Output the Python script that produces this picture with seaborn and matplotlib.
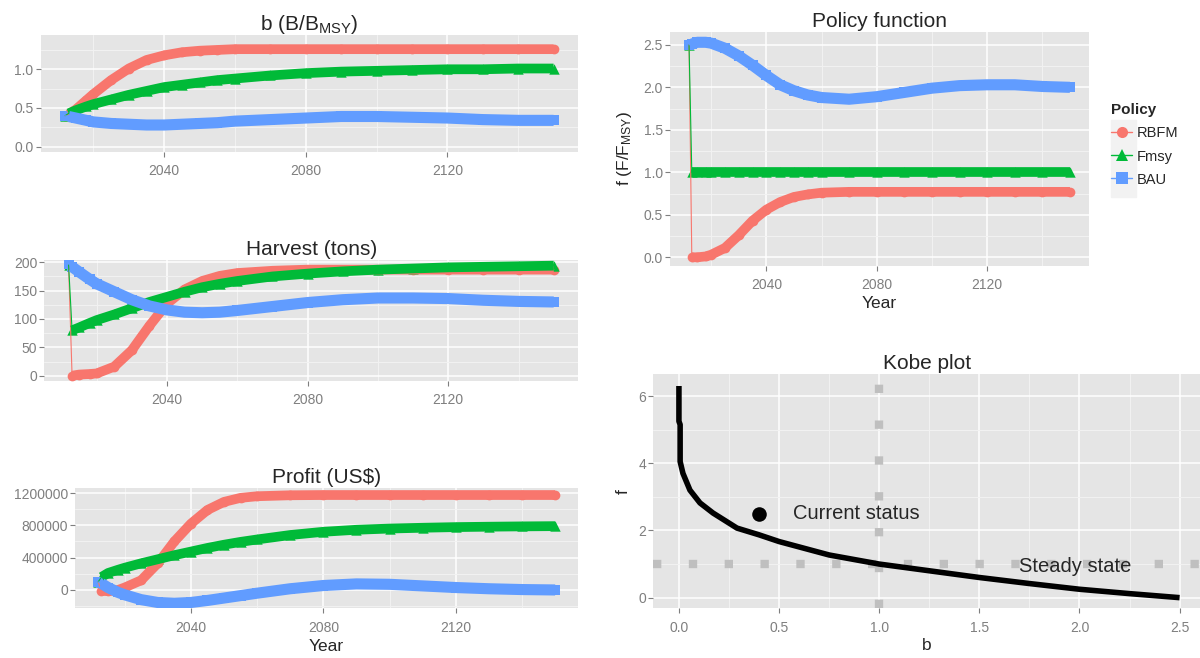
import matplotlib
matplotlib.use("Agg")
import matplotlib.pyplot as plt
from matplotlib.lines import Line2D
from matplotlib.patches import Rectangle
import pandas as pd
import seaborn as sns

# ---- data ----
years = [2012, 2013, 2015, 2018, 2020, 2025, 2030, 2035, 2040, 2045, 2050, 2055,
         2060, 2070, 2080, 2090, 2100, 2110, 2120, 2130, 2140, 2150]
policies = ["RBFM", "Fmsy", "BAU"]

b_rbfm = [0.40, 0.42, 0.48, 0.60, 0.68, 0.86, 1.01, 1.12, 1.18, 1.22, 1.24, 1.25,
          1.26, 1.26, 1.26, 1.26, 1.26, 1.26, 1.26, 1.26, 1.26, 1.26]
b_fmsy = [0.40, 0.43, 0.47, 0.52, 0.55, 0.61, 0.67, 0.72, 0.77, 0.80, 0.83, 0.86,
          0.88, 0.92, 0.95, 0.97, 0.98, 0.99, 1.00, 1.00, 1.01, 1.01]
b_bau = [0.40, 0.39, 0.37, 0.34, 0.32, 0.30, 0.29, 0.28, 0.28, 0.29, 0.30, 0.31,
         0.33, 0.35, 0.37, 0.39, 0.39, 0.38, 0.37, 0.35, 0.34, 0.34]

h_rbfm = [196, 0, 2, 3, 4, 16, 45, 88, 127, 152, 167, 176,
          181, 185, 187, 187, 187, 187, 187, 187, 187, 187]
h_fmsy = [196, 80, 85, 93, 98, 108, 119, 130, 139, 148, 156, 162,
          167, 175, 180, 184, 187, 189, 191, 192, 193, 194]
h_bau = [197, 192, 183, 170, 162, 148, 134, 123, 116, 112, 111, 112,
         115, 122, 129, 134, 137, 137, 136, 133, 131, 130]

p_rbfm = [100000, -10000, -15000, 0, 30000, 120000, 330000, 600000, 820000, 990000,
          1090000, 1140000, 1160000, 1172000, 1175000, 1175000, 1175000, 1175000,
          1175000, 1175000, 1175000, 1175000]
p_fmsy = [100000, 160000, 210000, 250000, 275000, 330000, 380000, 430000, 475000,
          520000, 560000, 595000, 625000, 680000, 720000, 745000, 760000, 770000,
          778000, 783000, 787000, 790000]
p_bau = [100000, 80000, 30000, -30000, -60000, -120000, -155000, -165000, -155000,
         -130000, -100000, -70000, -40000, 15000, 55000, 75000, 70000, 50000,
         30000, 15000, 5000, 0]

f_rbfm = [2.50, 0.00, 0.00, 0.01, 0.03, 0.11, 0.26, 0.43, 0.56, 0.65, 0.71, 0.74,
          0.76, 0.77, 0.77, 0.77, 0.77, 0.77, 0.77, 0.77, 0.77, 0.77]
f_fmsy = [2.50, 1.00, 1.00, 1.00, 1.00, 1.00, 1.00, 1.00, 1.00, 1.00, 1.00, 1.00,
          1.00, 1.00, 1.00, 1.00, 1.00, 1.00, 1.00, 1.00, 1.00, 1.00]
f_bau = [2.50, 2.51, 2.53, 2.53, 2.52, 2.46, 2.37, 2.26, 2.14, 2.03, 1.96, 1.91,
         1.88, 1.86, 1.89, 1.94, 1.99, 2.02, 2.03, 2.03, 2.01, 2.00]

# steady-state curve for the Kobe plot
b_ss = [0.0, 0.0, 0.006, 0.006, 0.02, 0.055, 0.105, 0.17, 0.29, 0.40, 0.50, 0.75,
        1.0, 1.25, 1.5, 1.75, 2.0, 2.25, 2.5]
f_ss = [6.3, 5.25, 5.15, 4.05, 3.7, 3.2, 2.82, 2.52, 2.07, 1.87, 1.67, 1.27,
        1.0, 0.8, 0.6, 0.42, 0.25, 0.12, 0.0]
status_b = [0.4]
status_f = [2.5]

colors = {"RBFM": "#F8766D", "Fmsy": "#00BA38", "BAU": "#619CFF"}
markers = {"RBFM": "o", "Fmsy": "^", "BAU": "s"}
band_w = {"RBFM": 7.0, "Fmsy": 7.0, "BAU": 8.0}
msize = {"RBFM": 49, "Fmsy": 56, "BAU": 46}

sns.set_style("darkgrid", {"axes.facecolor": "#E5E5E5", "grid.color": "white"})
plt.rcParams["font.family"] = ["Liberation Sans", "DejaVu Sans"]
plt.rcParams["mathtext.fontset"] = "custom"
plt.rcParams["mathtext.rm"] = "Liberation Sans"
plt.rcParams["mathtext.it"] = "Liberation Sans:italic"
plt.rcParams["mathtext.bf"] = "Liberation Sans:bold"

W, H = 1200, 658
fig = plt.figure(figsize=(12, 6.58), dpi=100)


def add_ax(left, top, right, bottom):
    return fig.add_axes([left / W, 1 - bottom / H, (right - left) / W, (bottom - top) / H])


def style(ax, xlim, ylim, xt, xtl, xminor, yt, ytl, yminor):
    ax.set_xlim(*xlim)
    ax.set_ylim(*ylim)
    ax.set_xticks(xt)
    ax.set_xticklabels(xtl)
    ax.set_yticks(yt)
    ax.set_yticklabels(ytl)
    ax.set_xticks(xminor, minor=True)
    ax.set_yticks(yminor, minor=True)
    ax.grid(which="major", color="white", lw=1.1)
    ax.grid(which="minor", color="#F2F2F2", lw=0.7)
    ax.set_axisbelow(True)
    for s in ax.spines.values():
        s.set_visible(False)
    ax.tick_params(which="major", bottom=True, left=True, length=3.6, width=0.8,
                   color="#7F7F7F", labelcolor="#7F7F7F", labelsize=10)
    ax.tick_params(axis="x", which="major", pad=5.3)
    ax.tick_params(axis="y", which="major", pad=1.5)
    ax.tick_params(which="minor", length=0)
    ax.set_xlabel("")
    ax.set_ylabel("")


def draw_series(ax, series):
    for pol, vals in zip(policies, series):
        d = pd.DataFrame({"Year": years, "v": vals})
        c = colors[pol]
        sns.lineplot(data=d, x="Year", y="v", color=c, lw=0.8, ax=ax)
        sns.scatterplot(data=d, x="Year", y="v", color=c, marker=markers[pol],
                        s=msize[pol], linewidth=0, ax=ax)
        sns.lineplot(data=d.iloc[1:], x="Year", y="v", color=c, lw=band_w[pol],
                     solid_joinstyle="round", solid_capstyle="butt", ax=ax)


xlim_years = (2005.1, 2156.9)
yr_ticks = [2040, 2080, 2120]
yr_labels = ["2040", "2080", "2120"]
yr_minor = [2020, 2060, 2100, 2140]

# ---- b panel ----
ax1 = add_ax(40.7, 35, 578, 151.7)
draw_series(ax1, [b_rbfm, b_fmsy, b_bau])
style(ax1, xlim_years, (-0.065, 1.443), yr_ticks, yr_labels, yr_minor,
      [0.0, 0.5, 1.0], ["0.0", "0.5", "1.0"], [0.25, 0.75, 1.25])
ax1.set_title(r"b (B/B$_{\rm MSY}$)", fontsize=15, pad=3.5)

# ---- harvest panel ----
ax2 = add_ax(44.3, 260, 578, 380.7)
draw_series(ax2, [h_rbfm, h_fmsy, h_bau])
style(ax2, xlim_years, (-8.8, 204), yr_ticks, yr_labels, yr_minor,
      [0, 50, 100, 150, 200], ["0", "50", "100", "150", "200"], [25, 75, 125, 175])
ax2.set_title("Harvest (tons)", fontsize=15, pad=3.5)

# ---- profit panel ----
ax3 = add_ax(75.3, 488, 578, 608.3)
draw_series(ax3, [p_rbfm, p_fmsy, p_bau])
style(ax3, xlim_years, (-227000, 1262000), yr_ticks, yr_labels, yr_minor,
      [0, 400000, 800000, 1200000], ["0", "400000", "800000", "1200000"],
      [-200000, 200000, 600000, 1000000])
ax3.set_title("Profit (US$)", fontsize=15, pad=3.5)
ax3.set_xlabel("Year", fontsize=12.5, va="center")
ax3.xaxis.set_label_coords(0.5, -(646.7 - 608.3) / (608.3 - 488))

# ---- policy function panel ----
ax4 = add_ax(670, 31.5, 1089, 265.7)
draw_series(ax4, [f_rbfm, f_fmsy, f_bau])
style(ax4, xlim_years, (-0.099, 2.657), yr_ticks, yr_labels, yr_minor,
      [0.0, 0.5, 1.0, 1.5, 2.0, 2.5], ["0.0", "0.5", "1.0", "1.5", "2.0", "2.5"],
      [0.25, 0.75, 1.25, 1.75, 2.25])
ax4.set_title("Policy function", fontsize=15, pad=3.5)
ax4.set_xlabel("Year", fontsize=12.5, va="center")
ax4.xaxis.set_label_coords(0.5, -(303 - 265.7) / (265.7 - 31.5))
ax4.set_ylabel(r"f (F/F$_{\rm MSY}$)", fontsize=12.5, va="center")
ax4.yaxis.set_label_coords((625 - 670) / (1089 - 670), 0.5)

# key backgrounds behind the legend entries
for top in [120, 146, 172]:
    fig.patches.append(Rectangle((1111 / W, 1 - (top + 24.5) / H), 25 / W, 24.5 / H,
                                 transform=fig.transFigure, color="#F2F2F2", zorder=1))
handles = [Line2D([], [], color=colors[p], lw=1.0, marker=markers[p], ms=8, mew=0)
           for p in policies]
leg = fig.legend(handles, policies, title="Policy", loc="upper left",
                 bbox_to_anchor=(1109.5 / W, 1 - 102 / H), frameon=False,
                 fontsize=10.5, title_fontproperties={"weight": "bold", "size": 11},
                 handlelength=1.45, handleheight=0.7, handletextpad=0.3,
                 labelspacing=0.62, borderpad=0.1, borderaxespad=0, alignment="left")
leg.set_zorder(5)

# ---- Kobe plot ----
ax5 = add_ax(653.3, 374, 1200, 608.3)
ax5.axvline(1.0, color="#BFBFBF", lw=6, dashes=(1, 3.3))
ax5.axhline(1.0, color="#BFBFBF", lw=6, dashes=(1, 3.3))
sns.lineplot(x=b_ss, y=f_ss, sort=False, estimator=None, color="black", lw=4,
             solid_capstyle="butt", ax=ax5)
sns.scatterplot(x=status_b, y=status_f, color="black", s=110, linewidth=0, ax=ax5)
ax5.text(0.57, 2.5, "Current status", fontsize=14.5, ha="left", va="center")
ax5.text(1.70, 0.93, "Steady state", fontsize=14.5, ha="left", va="center")
style(ax5, (-0.128, 2.602), (-0.317, 6.657), [0.0, 0.5, 1.0, 1.5, 2.0, 2.5],
      ["0.0", "0.5", "1.0", "1.5", "2.0", "2.5"], [0.25, 0.75, 1.25, 1.75, 2.25],
      [0, 2, 4, 6], ["0", "2", "4", "6"], [1, 3, 5])
ax5.set_title("Kobe plot", fontsize=15, pad=3.5)
ax5.set_xlabel("b", fontsize=12.5, va="center")
ax5.xaxis.set_label_coords(0.5, -(645 - 608.3) / (608.3 - 374))
ax5.set_ylabel("f", fontsize=12.5, va="center")
ax5.yaxis.set_label_coords((623 - 653.3) / (1200 - 653.3), 0.5)

fig.savefig("out.png", dpi=100, facecolor="white")
